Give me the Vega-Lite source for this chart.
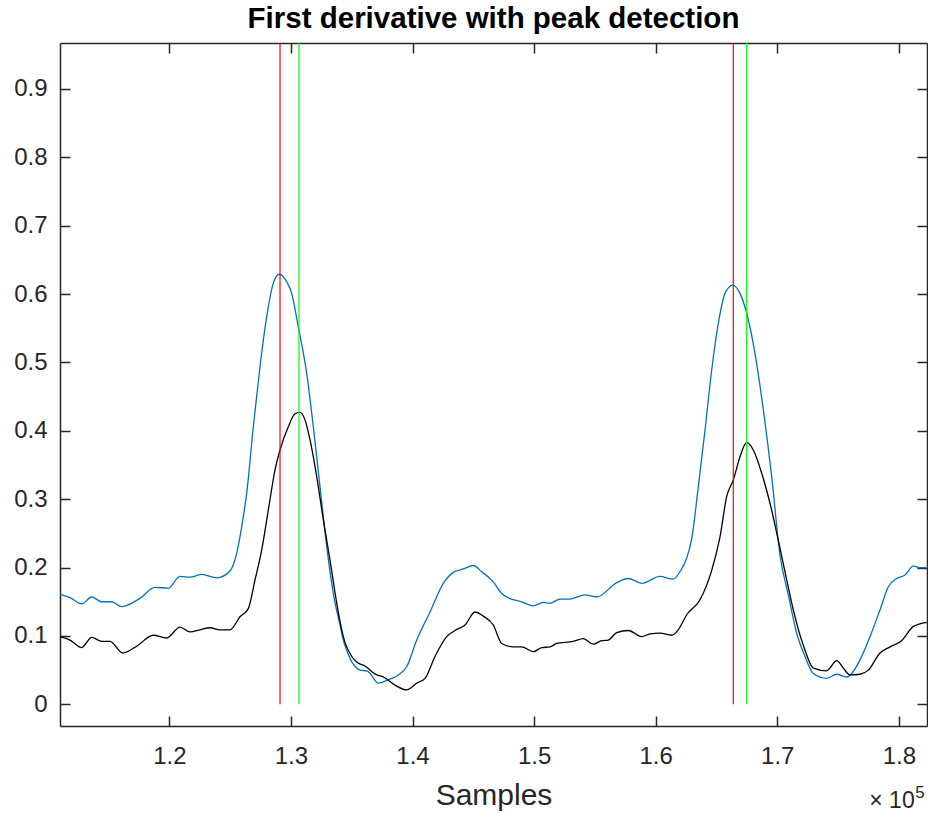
{
  "$schema": "https://vega.github.io/schema/vega-lite/v6.json",
  "width": 867,
  "height": 683,
  "autosize": {"type": "none"},
  "padding": {"left": 60, "top": 43, "right": 1, "bottom": 87},
  "background": "white",
  "title": {
    "text": "First derivative with peak detection",
    "font": "Liberation Sans",
    "fontSize": 29.5,
    "fontWeight": "bold",
    "color": "#000000",
    "anchor": "middle",
    "offset": 8
  },
  "config": {
    "view": {"stroke": null},
    "axis": {
      "domainColor": "#262626",
      "domainWidth": 1.5,
      "tickColor": "#262626",
      "tickWidth": 1.5,
      "tickSize": -10,
      "grid": false,
      "labelFont": "Liberation Sans",
      "labelFontSize": 24,
      "labelColor": "#262626",
      "titleFont": "Liberation Sans",
      "titleColor": "#262626",
      "titleFontWeight": "normal"
    }
  },
  "datasets": {
    "blue": [
      {"sample": 111011, "value": 0.161},
      {"sample": 111834, "value": 0.156},
      {"sample": 112796, "value": 0.147},
      {"sample": 113618, "value": 0.157},
      {"sample": 114441, "value": 0.150},
      {"sample": 115263, "value": 0.150},
      {"sample": 116085, "value": 0.143},
      {"sample": 117590, "value": 0.155},
      {"sample": 118824, "value": 0.171},
      {"sample": 119918, "value": 0.170},
      {"sample": 120880, "value": 0.187},
      {"sample": 121702, "value": 0.186},
      {"sample": 122665, "value": 0.190},
      {"sample": 123898, "value": 0.185},
      {"sample": 124992, "value": 0.195},
      {"sample": 125543, "value": 0.221},
      {"sample": 125954, "value": 0.260},
      {"sample": 126365, "value": 0.309},
      {"sample": 126908, "value": 0.406},
      {"sample": 127459, "value": 0.494},
      {"sample": 128010, "value": 0.567},
      {"sample": 128553, "value": 0.616},
      {"sample": 129046, "value": 0.629},
      {"sample": 129655, "value": 0.618},
      {"sample": 130066, "value": 0.601},
      {"sample": 130609, "value": 0.552},
      {"sample": 131300, "value": 0.484},
      {"sample": 131843, "value": 0.406},
      {"sample": 132394, "value": 0.318},
      {"sample": 132945, "value": 0.231},
      {"sample": 133487, "value": 0.162},
      {"sample": 134038, "value": 0.116},
      {"sample": 134310, "value": 0.094},
      {"sample": 134589, "value": 0.079},
      {"sample": 135001, "value": 0.062},
      {"sample": 135412, "value": 0.053},
      {"sample": 135683, "value": 0.050},
      {"sample": 136234, "value": 0.049},
      {"sample": 136506, "value": 0.045},
      {"sample": 137188, "value": 0.031},
      {"sample": 138011, "value": 0.036},
      {"sample": 138833, "value": 0.043},
      {"sample": 139524, "value": 0.055},
      {"sample": 140346, "value": 0.094},
      {"sample": 141440, "value": 0.135},
      {"sample": 142534, "value": 0.177},
      {"sample": 143356, "value": 0.193},
      {"sample": 144179, "value": 0.198},
      {"sample": 145001, "value": 0.203},
      {"sample": 145692, "value": 0.194},
      {"sample": 146646, "value": 0.179},
      {"sample": 147337, "value": 0.162},
      {"sample": 148291, "value": 0.153},
      {"sample": 148981, "value": 0.150},
      {"sample": 149935, "value": 0.144},
      {"sample": 150758, "value": 0.149},
      {"sample": 151309, "value": 0.148},
      {"sample": 152131, "value": 0.154},
      {"sample": 152954, "value": 0.154},
      {"sample": 154187, "value": 0.160},
      {"sample": 155149, "value": 0.157},
      {"sample": 156794, "value": 0.178},
      {"sample": 157748, "value": 0.184},
      {"sample": 158850, "value": 0.177},
      {"sample": 160355, "value": 0.187},
      {"sample": 161449, "value": 0.183},
      {"sample": 162000, "value": 0.194},
      {"sample": 162551, "value": 0.214},
      {"sample": 162962, "value": 0.242},
      {"sample": 163505, "value": 0.318},
      {"sample": 164056, "value": 0.401},
      {"sample": 164607, "value": 0.489},
      {"sample": 165150, "value": 0.557},
      {"sample": 165701, "value": 0.601},
      {"sample": 166334, "value": 0.613},
      {"sample": 166934, "value": 0.601},
      {"sample": 167485, "value": 0.572},
      {"sample": 168168, "value": 0.513},
      {"sample": 168851, "value": 0.431},
      {"sample": 169541, "value": 0.333},
      {"sample": 170224, "value": 0.218},
      {"sample": 170906, "value": 0.160},
      {"sample": 171597, "value": 0.104},
      {"sample": 172280, "value": 0.070},
      {"sample": 172963, "value": 0.045},
      {"sample": 174065, "value": 0.038},
      {"sample": 174887, "value": 0.044},
      {"sample": 175709, "value": 0.040},
      {"sample": 176120, "value": 0.045},
      {"sample": 176803, "value": 0.065},
      {"sample": 177626, "value": 0.099},
      {"sample": 178448, "value": 0.138},
      {"sample": 179131, "value": 0.172},
      {"sample": 179821, "value": 0.184},
      {"sample": 180504, "value": 0.189},
      {"sample": 181187, "value": 0.202},
      {"sample": 181738, "value": 0.200},
      {"sample": 182289, "value": 0.200}
    ],
    "black": [
      {"sample": 111011, "value": 0.099},
      {"sample": 111834, "value": 0.094},
      {"sample": 112796, "value": 0.083},
      {"sample": 113618, "value": 0.098},
      {"sample": 114441, "value": 0.092},
      {"sample": 115123, "value": 0.092},
      {"sample": 116168, "value": 0.075},
      {"sample": 117319, "value": 0.085},
      {"sample": 118684, "value": 0.101},
      {"sample": 119786, "value": 0.097},
      {"sample": 120880, "value": 0.113},
      {"sample": 121702, "value": 0.106},
      {"sample": 122525, "value": 0.109},
      {"sample": 123347, "value": 0.112},
      {"sample": 124170, "value": 0.109},
      {"sample": 124992, "value": 0.109},
      {"sample": 125814, "value": 0.128},
      {"sample": 126497, "value": 0.140},
      {"sample": 127048, "value": 0.182},
      {"sample": 127599, "value": 0.226},
      {"sample": 128142, "value": 0.284},
      {"sample": 128693, "value": 0.343},
      {"sample": 129104, "value": 0.372},
      {"sample": 129787, "value": 0.406},
      {"sample": 130338, "value": 0.425},
      {"sample": 130749, "value": 0.427},
      {"sample": 131160, "value": 0.416},
      {"sample": 131571, "value": 0.387},
      {"sample": 132122, "value": 0.333},
      {"sample": 132665, "value": 0.270},
      {"sample": 133216, "value": 0.211},
      {"sample": 133767, "value": 0.148},
      {"sample": 134310, "value": 0.099},
      {"sample": 135001, "value": 0.070},
      {"sample": 135412, "value": 0.062},
      {"sample": 136094, "value": 0.056},
      {"sample": 137057, "value": 0.043},
      {"sample": 137599, "value": 0.040},
      {"sample": 138562, "value": 0.028},
      {"sample": 139524, "value": 0.021},
      {"sample": 140346, "value": 0.031},
      {"sample": 141029, "value": 0.038},
      {"sample": 141851, "value": 0.070},
      {"sample": 142813, "value": 0.099},
      {"sample": 143496, "value": 0.108},
      {"sample": 144318, "value": 0.116},
      {"sample": 145141, "value": 0.135},
      {"sample": 145823, "value": 0.129},
      {"sample": 146646, "value": 0.116},
      {"sample": 147337, "value": 0.089},
      {"sample": 148291, "value": 0.084},
      {"sample": 148981, "value": 0.084},
      {"sample": 149935, "value": 0.077},
      {"sample": 150626, "value": 0.083},
      {"sample": 151309, "value": 0.084},
      {"sample": 151860, "value": 0.089},
      {"sample": 153225, "value": 0.092},
      {"sample": 154047, "value": 0.096},
      {"sample": 154870, "value": 0.088},
      {"sample": 155561, "value": 0.093},
      {"sample": 156103, "value": 0.094},
      {"sample": 156794, "value": 0.105},
      {"sample": 157748, "value": 0.108},
      {"sample": 158850, "value": 0.099},
      {"sample": 159533, "value": 0.103},
      {"sample": 160355, "value": 0.104},
      {"sample": 161317, "value": 0.101},
      {"sample": 161860, "value": 0.109},
      {"sample": 162551, "value": 0.131},
      {"sample": 163645, "value": 0.153},
      {"sample": 164607, "value": 0.196},
      {"sample": 165290, "value": 0.245},
      {"sample": 165841, "value": 0.304},
      {"sample": 166383, "value": 0.328},
      {"sample": 166934, "value": 0.362},
      {"sample": 167485, "value": 0.383},
      {"sample": 168028, "value": 0.372},
      {"sample": 168719, "value": 0.338},
      {"sample": 169402, "value": 0.294},
      {"sample": 170084, "value": 0.240},
      {"sample": 170775, "value": 0.182},
      {"sample": 171318, "value": 0.138},
      {"sample": 172280, "value": 0.079},
      {"sample": 172963, "value": 0.053},
      {"sample": 174065, "value": 0.049},
      {"sample": 174887, "value": 0.064},
      {"sample": 175430, "value": 0.053},
      {"sample": 175981, "value": 0.043},
      {"sample": 176803, "value": 0.044},
      {"sample": 177486, "value": 0.050},
      {"sample": 178448, "value": 0.075},
      {"sample": 179270, "value": 0.084},
      {"sample": 180233, "value": 0.093},
      {"sample": 181187, "value": 0.114},
      {"sample": 182289, "value": 0.120}
    ],
    "red": [{"sample": 129104, "lo": 0, "hi": 1}, {"sample": 166383, "lo": 0, "hi": 1}],
    "green": [{"sample": 130667, "lo": 0, "hi": 1}, {"sample": 167484, "lo": 0, "hi": 1}],
    "expbase": [{"sample": 181300, "value": -0.152, "label": "× 10"}],
    "expsup": [{"sample": 181350, "value": -0.1365, "label": "5"}]
  },
  "resolve": {"axis": {"x": "independent", "y": "independent"}},
  "layer": [
    {
      "data": {"name": "blue"},
      "mark": {"type": "line", "color": "#0072BD", "strokeWidth": 1.3, "interpolate": "monotone", "clip": true},
      "encoding": {
        "x": {
          "field": "sample", "type": "quantitative",
          "scale": {"domain": [111010, 182313], "nice": false, "zero": false},
          "axis": {
            "orient": "bottom",
            "values": [120000, 130000, 140000, 150000, 160000, 170000, 180000],
            "labelExpr": "format(datum.value / 100000, '.1f')",
            "labelPadding": 28,
            "title": "Samples",
            "titleFontSize": 30,
            "titlePadding": 12
          }
        },
        "y": {
          "field": "value", "type": "quantitative",
          "scale": {"domain": [-0.0317, 0.9672], "nice": false, "zero": false},
          "axis": {
            "orient": "left",
            "values": [0, 0.1, 0.2, 0.3, 0.4, 0.5, 0.6, 0.7, 0.8, 0.9],
            "labelExpr": "datum.value == 0 ? '0' : format(datum.value, '.1f')",
            "labelPadding": 23,
            "title": null
          }
        }
      }
    },
    {
      "data": {"name": "black"},
      "mark": {"type": "line", "color": "#000000", "strokeWidth": 1.3, "interpolate": "monotone", "clip": true},
      "encoding": {
        "x": {
          "field": "sample", "type": "quantitative",
          "axis": {
            "orient": "top",
            "values": [120000, 130000, 140000, 150000, 160000, 170000, 180000],
            "labels": false,
            "title": null
          }
        },
        "y": {
          "field": "value", "type": "quantitative",
          "axis": {
            "orient": "right",
            "values": [0, 0.1, 0.2, 0.3, 0.4, 0.5, 0.6, 0.7, 0.8, 0.9],
            "labels": false,
            "title": null
          }
        }
      }
    },
    {
      "data": {"name": "red"},
      "mark": {"type": "rule", "color": "#FF0000", "strokeWidth": 1.2, "clip": true},
      "encoding": {
        "x": {"field": "sample", "type": "quantitative", "axis": null},
        "y": {"field": "lo", "type": "quantitative", "axis": null},
        "y2": {"field": "hi"}
      }
    },
    {
      "data": {"name": "green"},
      "mark": {"type": "rule", "color": "#00FF00", "strokeWidth": 1.2, "clip": true},
      "encoding": {
        "x": {"field": "sample", "type": "quantitative", "axis": null},
        "y": {"field": "lo", "type": "quantitative", "axis": null},
        "y2": {"field": "hi"}
      }
    },
    {
      "data": {"name": "expbase"},
      "mark": {"type": "text", "font": "Liberation Sans", "color": "#262626", "baseline": "alphabetic", "align": "right", "fontSize": 23},
      "encoding": {
        "x": {"field": "sample", "type": "quantitative", "axis": null},
        "y": {"field": "value", "type": "quantitative", "axis": null},
        "text": {"field": "label"}
      }
    },
    {
      "data": {"name": "expsup"},
      "mark": {"type": "text", "font": "Liberation Sans", "color": "#262626", "baseline": "alphabetic", "align": "left", "fontSize": 17},
      "encoding": {
        "x": {"field": "sample", "type": "quantitative", "axis": null},
        "y": {"field": "value", "type": "quantitative", "axis": null},
        "text": {"field": "label"}
      }
    }
  ]
}
